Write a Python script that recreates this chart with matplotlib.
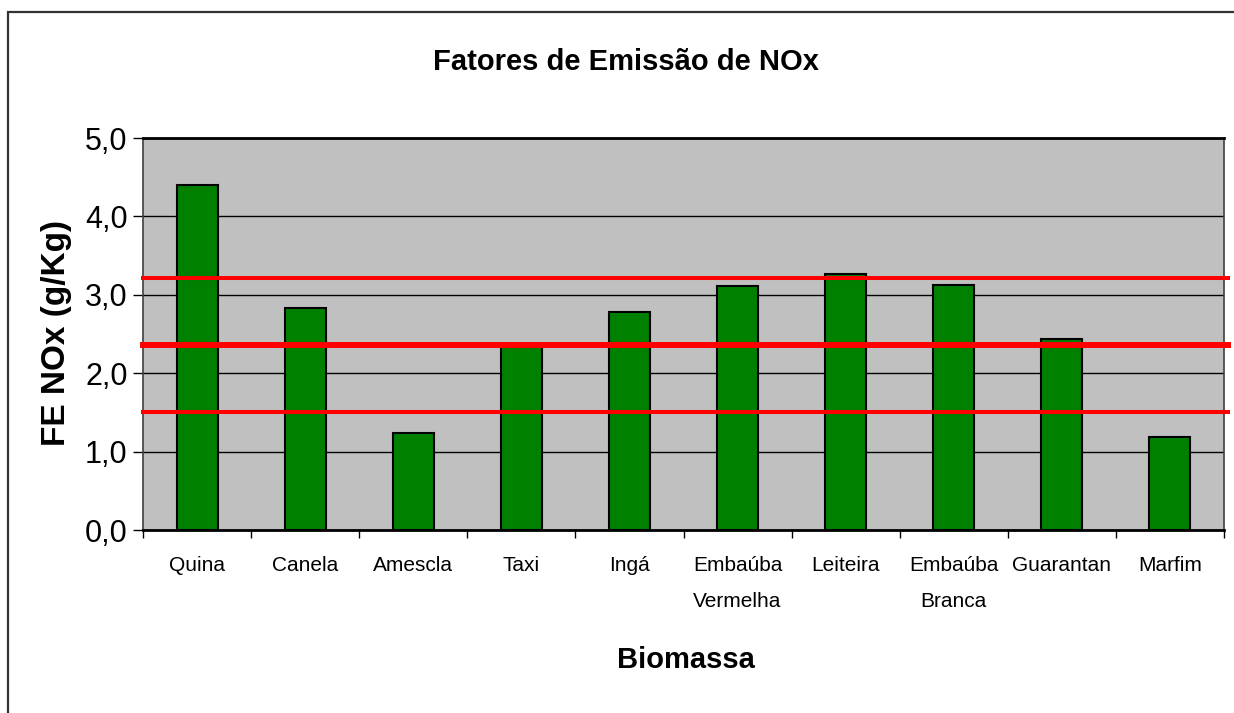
import matplotlib.pyplot as plt
import matplotlib.patches as mpatches
import numpy as np

# dados
especies = ['Quina', 'Canela', 'Amescla', 'Taxi', 'Ingá', 'Embaúba\nVermelha',
            'Leiteira', 'Embaúba\nBranca', 'Guarantan', 'Marfim']
fe_nox = [4.40, 2.83, 1.24, 2.33, 2.78, 3.11, 3.26, 3.12, 2.44, 1.19]
linhas_ref = [3.22, 2.355, 1.51]
y_ticks = [0, 1, 2, 3, 4, 5]
y_labels = ['0,0', '1,0', '2,0', '3,0', '4,0', '5,0']

narrow = ['Liberation Sans Narrow', 'Liberation Sans', 'DejaVu Sans']
normal = ['Liberation Sans', 'DejaVu Sans']

W, H = 1234, 713
fig = plt.figure(figsize=(W / 100, H / 100), dpi=100)
fig.patch.set_facecolor('white')

# moldura do grafico (cortada a direita e embaixo)
fig.add_artist(mpatches.Rectangle((8 / W, -0.05), 1.1, 1 - 12 / H + 0.05,
                                  transform=fig.transFigure, fill=False,
                                  edgecolor='#333333', linewidth=1.6))

ax = fig.add_axes([143 / W, 1 - 530 / H, (1224 - 143) / W, (530 - 138) / H])
ax.set_facecolor('#C0C0C0')

x = np.arange(len(especies))
ax.bar(x, fe_nox, width=0.38, color='#008000', edgecolor='black',
       linewidth=1.5, zorder=2)

for v, lw in zip(linhas_ref, [2.9, 4.3, 2.9]):
    ax.axhline(v, xmin=0, xmax=1.004, color='#FF0000', linewidth=lw,
               zorder=3, clip_on=False)

ax.set_xlim(-0.5, len(especies) - 0.5)
ax.set_ylim(0, 5)
ax.set_yticks(y_ticks)
ax.set_yticklabels(y_labels, fontsize=22, family=normal)
ax.yaxis.grid(True, color='black', linewidth=1.0, zorder=1)
ax.set_axisbelow(True)
ax.tick_params(axis='y', direction='out', length=7, width=1, pad=4)

ax.set_xticks(x)
ax.set_xticklabels(especies, fontsize=15, family=narrow)
for t in ax.get_xticklabels():
    t.set_linespacing(2.1)
ax.tick_params(axis='x', which='major', length=0, pad=19)
ax.set_xticks(np.arange(-0.5, len(especies)), minor=True)
ax.tick_params(axis='x', which='minor', direction='out', length=6, width=1)

for s in ax.spines.values():
    s.set_color('#404040')
    s.set_linewidth(1.2)
ax.spines['bottom'].set_color('black')
ax.spines['bottom'].set_linewidth(2)
ax.spines['top'].set_color('black')
ax.spines['top'].set_linewidth(2)

fig.text(626 / W, 1 - 62 / H, 'Fatores de Emissão de NOx', fontsize=21,
         fontweight='bold', family=narrow, ha='center', va='center')
fig.text(686 / W, 1 - 660 / H, 'Biomassa', fontsize=21,
         fontweight='bold', family=narrow, ha='center', va='center')
fig.text(57 / W, 1 - 333 / H, 'FE NOx (g/Kg)', fontsize=24, rotation=90,
         fontweight='bold', family=normal, ha='center', va='center')

fig.savefig('out.png', dpi=100)
